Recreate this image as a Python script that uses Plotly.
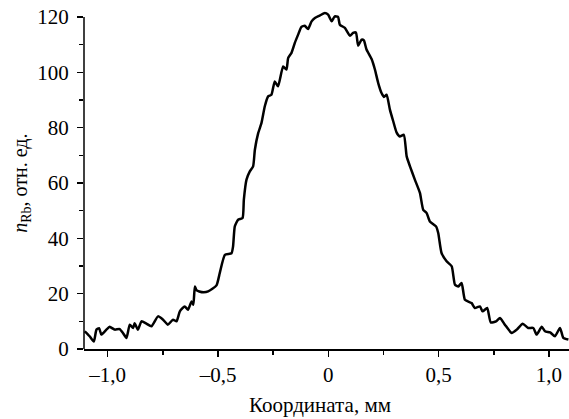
import plotly.graph_objects as go

# Координата, мм
coord_mm = [
    -1.104, -1.082, -1.063, -1.051, -1.039, -1.029, -1.006, -0.991, -0.968, -0.946,
    -0.931, -0.915, -0.900, -0.885, -0.878, -0.863, -0.847, -0.825, -0.802, -0.772,
    -0.749, -0.727, -0.704, -0.688, -0.673, -0.651, -0.636, -0.620, -0.612, -0.605,
    -0.598, -0.585, -0.565, -0.545, -0.507, -0.492, -0.469, -0.439, -0.432, -0.424,
    -0.409, -0.389, -0.383, -0.371, -0.356, -0.341, -0.333, -0.318, -0.303, -0.288,
    -0.273, -0.258, -0.243, -0.228, -0.205, -0.190, -0.182, -0.167, -0.152, -0.137,
    -0.122, -0.107, -0.092, -0.076, -0.061, -0.039, -0.016, -0.001, 0.015, 0.029,
    0.044, 0.052, 0.075, 0.098, 0.112, 0.125, 0.135, 0.151, 0.161, 0.173,
    0.196, 0.211, 0.226, 0.241, 0.252, 0.264, 0.279, 0.294, 0.309, 0.324,
    0.342, 0.355, 0.370, 0.392, 0.415, 0.430, 0.445, 0.460, 0.488, 0.498,
    0.513, 0.536, 0.559, 0.574, 0.589, 0.604, 0.619, 0.649, 0.664, 0.687,
    0.699, 0.720, 0.736, 0.760, 0.778, 0.800, 0.831, 0.854, 0.881, 0.906,
    0.929, 0.944, 0.967, 0.982, 1.005, 1.027, 1.050, 1.065, 1.088,
]

# n_Rb, отн. ед.
n_rb = [
    6.4, 4.6, 2.7, 7.0, 7.5, 5.2, 7.0, 8.0, 7.0, 7.2,
    5.8, 4.0, 8.8, 7.6, 9.3, 7.0, 10.0, 9.2, 8.2, 11.8,
    10.6, 8.8, 10.6, 10.0, 13.6, 15.4, 14.2, 17.2, 16.0, 22.6,
    21.3, 20.8, 20.5, 20.8, 23.0, 27.5, 34.0, 34.6, 37.0, 44.3,
    46.7, 47.3, 54.0, 61.2, 64.2, 66.0, 72.0, 78.0, 81.7, 87.7,
    91.3, 91.9, 96.7, 94.9, 102.1, 101.0, 105.2, 107.0, 110.6, 113.6,
    116.4, 116.8, 115.6, 118.4, 119.6, 120.5, 121.4, 120.8, 118.4, 120.2,
    120.0, 117.2, 116.0, 113.2, 114.2, 114.4, 109.6, 111.8, 111.5, 108.2,
    104.8, 101.0, 96.1, 92.5, 91.1, 91.9, 86.5, 82.3, 78.3, 76.8,
    77.4, 69.6, 66.0, 61.2, 56.4, 50.3, 49.2, 46.1, 44.3, 41.9,
    34.7, 31.7, 29.9, 23.2, 22.6, 23.9, 17.8, 16.6, 14.8, 15.4,
    13.6, 14.8, 9.6, 10.0, 11.2, 8.8, 5.8, 7.0, 9.1, 7.6,
    7.6, 5.2, 8.0, 6.4, 6.0, 4.6, 7.6, 4.0, 3.4,
]

x_tickvals = [-1.0, -0.5, 0.0, 0.5, 1.0]
x_ticktext = ["\u20131,0", "\u20130,5", "0", "0,5", "1,0"]
x_minor = [-0.75, -0.25, 0.25, 0.75]
y_tickvals = [0, 20, 40, 60, 80, 100, 120]
y_minor = [10, 30, 50, 70, 90, 110]

FONT = "Liberation Serif"

fig = go.Figure()
fig.add_trace(go.Scatter(
    x=coord_mm, y=n_rb, mode="lines",
    line=dict(color="black", width=2.5, shape="spline", smoothing=0.5),
    hoverinfo="skip", showlegend=False,
))

fig.update_layout(
    width=569, height=419,
    margin=dict(l=84, r=0, t=10, b=70),
    paper_bgcolor="white", plot_bgcolor="white",
    font=dict(family=FONT, size=21, color="black"),
    xaxis=dict(
        range=[-1.1075, 1.0907], showgrid=False, zeroline=False,
        showline=True, linecolor="black", linewidth=1.5,
        tickmode="array", tickvals=x_tickvals, ticktext=x_ticktext,
        ticks="outside", ticklen=6, tickwidth=1.5, tickcolor="black",
        minor=dict(tickmode="array", tickvals=x_minor, ticks="outside",
                   ticklen=4, tickwidth=1.5, tickcolor="black", showgrid=False),
        tickfont=dict(family=FONT, size=21, color="black"),
    ),
    yaxis=dict(
        range=[0, 122.5], showgrid=False, zeroline=False, showline=False,
        tickmode="array", tickvals=y_tickvals,
        ticks="outside", ticklen=6, tickwidth=1.5, tickcolor="black",
        minor=dict(tickmode="array", tickvals=y_minor, ticks="outside",
                   ticklen=4, tickwidth=1.5, tickcolor="black", showgrid=False),
        tickfont=dict(family=FONT, size=21, color="black"),
        ticklabelstandoff=4,
    ),
    shapes=[dict(type="line", xref="paper", yref="y", x0=0, x1=0, y0=0, y1=120,
                 line=dict(color="black", width=1.5))],
    annotations=[
        dict(text="<i>n</i><sub>Rb</sub>, отн. ед.", xref="paper", yref="paper",
             x=-0.128, y=0.49, xanchor="center", yanchor="middle", textangle=-90,
             showarrow=False, font=dict(family=FONT, size=20, color="black")),
        dict(text="Координата, мм", xref="paper", yref="paper",
             x=0.486, y=-0.164, xanchor="center", yanchor="middle",
             showarrow=False, font=dict(family=FONT, size=21, color="black")),
    ],
)

fig.write_html(
    "out.html",
    config={"displayModeBar": False, "staticPlot": True},
    post_script="document.body.style.margin='0';document.body.style.overflow='hidden';",
)
